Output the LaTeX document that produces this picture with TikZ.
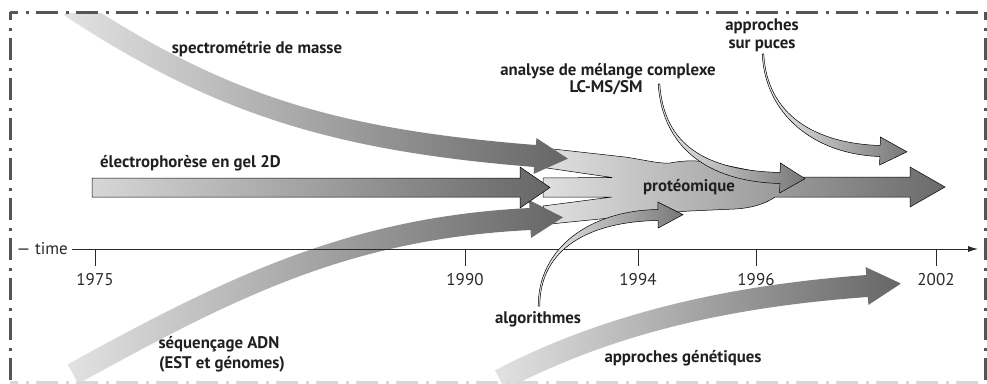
\documentclass[tikz,border=0pt]{standalone}
\usepackage{fontspec}
\setmainfont{PT Sans}
\usetikzlibrary{calc,arrows.meta}
\definecolor{ink}{HTML}{231F20}
\definecolor{framec}{HTML}{555555}
\definecolor{framelight}{HTML}{D8D8D8}
\definecolor{axisc}{HTML}{2A2A2A}
\definecolor{bandA}{HTML}{E2E2E2}
\definecolor{bandB}{HTML}{666666}
\definecolor{blobA}{HTML}{E0E0E0}
\definecolor{blobB}{HTML}{6A6A6A}
\definecolor{thinA}{HTML}{EBEBEB}
\definecolor{thinB}{HTML}{777777}
\newcommand\mkband[4]{%
  \coordinate (u0) at ($(a0)!#1!90:(a1)$);
  \coordinate (l0) at ($(a0)!#1!-90:(a1)$);
  \coordinate (u3) at ($(a3)!#2!-90:(a2)$);
  \coordinate (l3) at ($(a3)!#2!90:(a2)$);
  \coordinate (u1) at ($(a1)+(u0)-(a0)$);
  \coordinate (l1) at ($(a1)+(l0)-(a0)$);
  \coordinate (u2) at ($(a2)+(u3)-(a3)$);
  \coordinate (l2) at ($(a2)+(l3)-(a3)$);
  \coordinate (hu) at ($(a3)!#3!-90:(a2)$);
  \coordinate (hl) at ($(a3)!#3!90:(a2)$);
  \coordinate (tp) at ($(a3)!-#4!(a2)$);
}
\newcommand\bandfill[1]{%
  \shade[#1] (u0) .. controls (u1) and (u2) .. (u3) -- (hu) -- (tp) -- (hl) -- (l3) .. controls (l2) and (l1) .. (l0) -- cycle;
}
\begin{document}
\begin{tikzpicture}[x=1pt,y=-1pt,
  lab/.style={font=\fontsize{16.8}{19}\selectfont\bfseries, text=ink, inner sep=0pt, anchor=base},
  yr/.style={font=\fontsize{17}{19}\selectfont, text=axisc, inner sep=0pt, anchor=base},
  fr/.style={draw=framec, line width=3pt, dash pattern=on 22pt off 8pt on 3pt off 7pt, dash phase=14pt},
  bandshade/.style={left color=bandA, right color=bandB},
  thinarr/.style={left color=thinA, right color=thinB, draw=black, line width=0.5pt},
  axisline/.style={draw=axisc, line width=0.9pt}]
\useasboundingbox (0,0) rectangle (987,383);
\fill[white] (0,0) rectangle (987,383);

\begin{scope}
\clip (11.5,13.5) rectangle (983.5,383);
% proteomique blob with main arrow
\shade[left color=blobA, right color=blobB, draw=black, line width=0.5pt]
 (553,149) -- (625,157) .. controls (645,160) and (660,164) .. (670,163)
 .. controls (685,160) and (700,160) .. (718,164)
 .. controls (745,169) and (770,175) .. (790,177)
 -- (910,177) -- (910,167) -- (945,187) -- (910,207) -- (910,197)
 -- (775,197) .. controls (765,204) and (752,208) .. (735,209)
 -- (690,211) .. controls (660,213) and (620,217) .. (550,224)
 -- (543,206) -- (612,197) -- (543,197) -- (543,178) -- (612,177.5) -- (547,168) -- cycle;

% spectrometrie de masse
\coordinate (a0) at (70,6); \coordinate (a1) at (220,105);
\coordinate (a2) at (335,140); \coordinate (a3) at (535,156);
\mkband{11pt}{11pt}{18pt}{33pt}
\bandfill{bandshade}

% sequencage ADN
\coordinate (a0) at (73,374); \coordinate (a1) at (233,286);
\coordinate (a2) at (350,228); \coordinate (a3) at (530,219);
\mkband{11pt}{11pt}{19pt}{33pt}
\bandfill{bandshade}

% electrophorese
\shade[left color=bandA!95!black, right color=bandB, draw=black, line width=0.5pt]
 (92,178) -- (520,178) -- (520,167) -- (550,187.5) -- (520,208) -- (520,197) -- (92,197) -- cycle;

% approches genetiques
\coordinate (a0) at (500,380); \coordinate (a1) at (600,328);
\coordinate (a2) at (716,297); \coordinate (a3) at (867,286);
\mkband{11pt}{11pt}{19pt}{34pt}
\bandfill{bandshade}
\end{scope}

% time axis
\coordinate (ax0) at (72,249);
\coordinate (ax1) at (978,249);
\draw[axisline, -{Latex[length=10pt,width=6pt]}] (ax0) -- (ax1);
\node[yr, anchor=base east] (time) at (68,254) {— time};
\foreach \x/\yv in {95/1975, 465/1990, 638/1994, 756/1996, 936/2002}{
  \coordinate (t\yv) at (\x,249);
  \draw[axisline] (t\yv) -- ++(0,17);
  \node[yr] (y\yv) at (\x,285) {\yv};
}

% LC-MS/SM arrow
\coordinate (a0) at (659,84); \coordinate (a1) at (663,145);
\coordinate (a2) at (705,176); \coordinate (a3) at (780,178);
\mkband{0.8pt}{5.5pt}{15pt}{25pt}
\bandfill{thinarr}

% puces arrow
\coordinate (a0) at (763,54); \coordinate (a1) at (766,115);
\coordinate (a2) at (815,149); \coordinate (a3) at (880,151);
\mkband{0.8pt}{5.5pt}{14pt}{27pt}
\bandfill{thinarr}

% algorithmes arrow
\coordinate (a0) at (539,306); \coordinate (a1) at (539,248);
\coordinate (a2) at (590,216); \coordinate (a3) at (658,215);
\mkband{0.8pt}{5.5pt}{13pt}{25pt}
\bandfill{thinarr}

% labels
\node[lab] (spec) at (257,53) {spectrométrie de masse};
\node[lab, anchor=base west] (electro) at (100,167) {électrophorèse en gel 2D};
\node[lab] (anal1) at (608,75) {analyse de mélange complexe};
\node[lab] (anal2) at (606,92) {LC-MS/SM};
\node[lab] (puce1) at (762,30) {approches};
\node[lab] (puce2) at (762,48) {sur puces};
\node[lab] (prot) at (689,191) {protéomique};
\node[lab] (seq1) at (219,348) {séquençage ADN};
\node[lab] (seq2) at (222,368) {(EST et génomes)};
\node[lab] (algo) at (538,323) {algorithmes};
\node[lab] (gene) at (683,362) {approches génétiques};

% frame
\draw[fr] (10,12) -- (985,12);
\draw[fr] (10,12) -- (10,383);
\draw[fr] (985,12) -- (985,383);
\draw[fr, draw=framelight] (10,382.5) -- (985,382.5);
\end{tikzpicture}
\end{document}
